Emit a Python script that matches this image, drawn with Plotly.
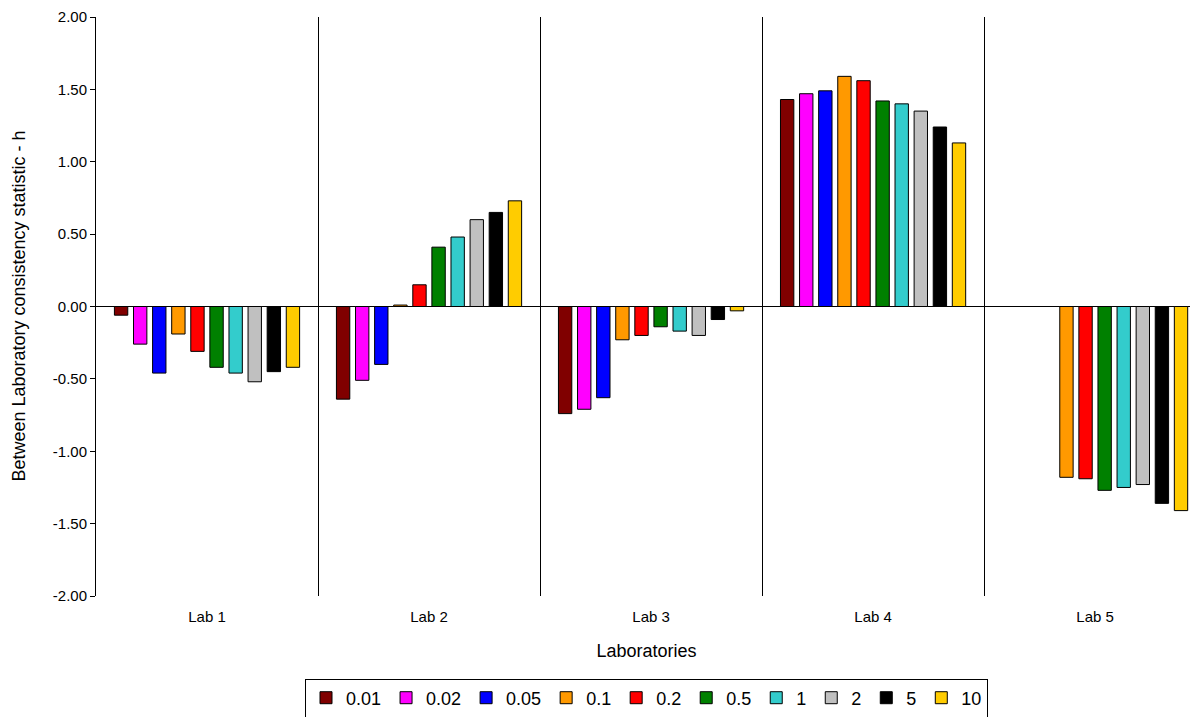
import plotly.graph_objects as go

labs = ["Lab 1", "Lab 2", "Lab 3", "Lab 4", "Lab 5"]
series_names = ["0.01", "0.02", "0.05", "0.1", "0.2", "0.5", "1", "2", "5", "10"]
colors = ["#800000", "#FF00FF", "#0000FF", "#FF9900", "#FF0000",
          "#008000", "#33CCCC", "#C0C0C0", "#000000", "#FFCC00"]

h_001 = [-0.06, -0.64, -0.74, 1.43, None]
h_002 = [-0.26, -0.51, -0.71, 1.47, None]
h_005 = [-0.46, -0.40, -0.63, 1.49, None]
h_01 = [-0.19, 0.01, -0.23, 1.59, -1.18]
h_02 = [-0.31, 0.15, -0.20, 1.56, -1.19]
h_05 = [-0.42, 0.41, -0.14, 1.42, -1.27]
h_1 = [-0.46, 0.48, -0.17, 1.40, -1.25]
h_2 = [-0.52, 0.60, -0.20, 1.35, -1.23]
h_5 = [-0.45, 0.65, -0.09, 1.24, -1.36]
h_10 = [-0.42, 0.73, -0.03, 1.13, -1.41]

values = [h_001, h_002, h_005, h_01, h_02, h_05, h_1, h_2, h_5, h_10]

y_tickvals = [-2.0, -1.5, -1.0, -0.5, 0.0, 0.5, 1.0, 1.5, 2.0]
y_ticktext = ["-2.00", "-1.50", "-1.00", "-0.50", "0.00", "0.50", "1.00", "1.50", "2.00"]

FONT = "Liberation Sans, Arial, sans-serif"

fig = go.Figure()
for name, col, vals in zip(series_names, colors, values):
    fig.add_trace(go.Bar(
        x=labs, y=vals, name=name,
        marker=dict(color=col, line=dict(color="#000000", width=1)),
    ))

fig.add_annotation(
    text="Between Laboratory consistency statistic - h",
    xref="paper", yref="paper", x=-0.0708, y=0.5,
    xanchor="center", yanchor="middle", textangle=-90,
    showarrow=False, font=dict(family=FONT, size=18, color="#000000"),
)

fig.update_layout(
    width=1190, height=709,
    margin=dict(l=88, r=1, t=9, b=121, autoexpand=False),
    paper_bgcolor="white", plot_bgcolor="white",
    barmode="group", bargap=0.14, bargroupgap=0.3,
    font=dict(family=FONT, color="#000000", size=15),
    showlegend=True,
    legend=dict(
        orientation="h", x=0.5, xanchor="center", y=-0.1425, yanchor="top",
        bordercolor="#000000", borderwidth=1,
        font=dict(family=FONT, size=18),
        itemwidth=30, traceorder="normal",
    ),
    xaxis=dict(
        type="category",
        tickson="boundaries",
        automargin=False,
        showgrid=True, gridcolor="#000000", gridwidth=1,
        showline=False, ticks="",
        ticklabelstandoff=10,
        tickfont=dict(size=15),
        title=dict(text="Laboratories", font=dict(size=18), standoff=20),
        range=[-0.5, 4.459],
    ),
    yaxis=dict(
        range=[-2, 2],
        automargin=False,
        tickvals=y_tickvals, ticktext=y_ticktext,
        showgrid=False,
        showline=True, linecolor="#000000", linewidth=1,
        ticks="outside", ticklen=5, tickcolor="#000000",
        zeroline=True, zerolinecolor="#000000", zerolinewidth=1,
        tickfont=dict(size=15),
    ),
)

fig.write_html("out.html")
